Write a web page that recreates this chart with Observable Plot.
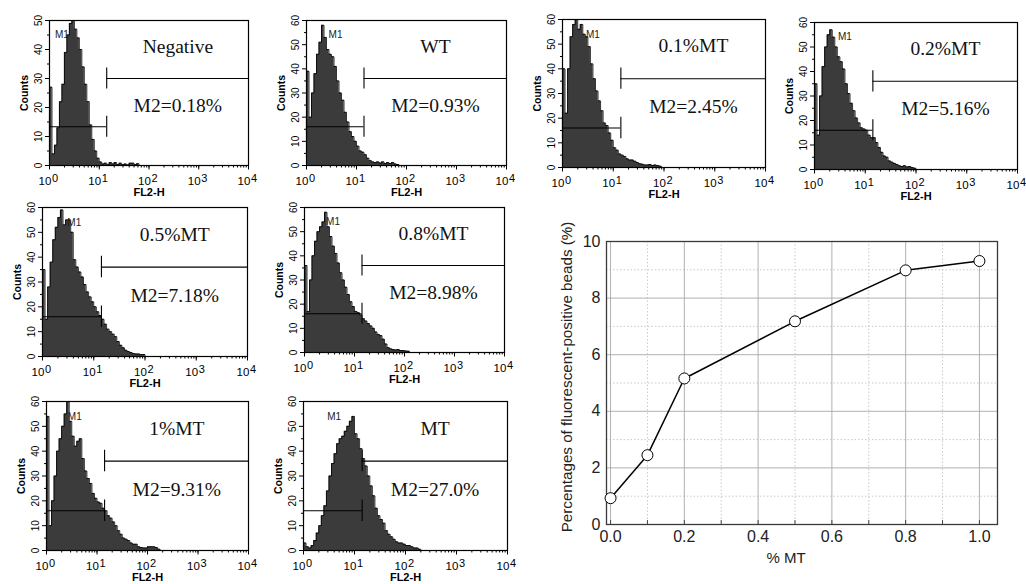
<!DOCTYPE html>
<html>
<head>
<meta charset="utf-8">
<script src="https://cdn.jsdelivr.net/npm/d3@7"></script>
<script src="https://cdn.jsdelivr.net/npm/@observablehq/plot@0.6"></script>
<style>
  html, body { margin: 0; padding: 0; background: #fff; overflow: hidden; }
  #root { position: relative; width: 1026px; height: 584px; }
  #root svg { position: absolute; background: transparent; }
</style>
</head>
<body>
<div id="root"></div>
<script>
// ---------- data: histogram counts per log10 bin (bin width 0.05 decade, starting at 10^0) ----------
const negativeCounts = [27,4,7,13,22,28,39,45,49,50,47,44,40,34,28,22,14,9,5,2.5,1.2,0.5,0.8,0.3,1,0.5,1,0.3,0.8,0.3,0.5,0.2,0.8,0.8,0.3,0.6,0];
const wtCounts = [39,20,30,38,46,51,58,53,48,46,45,41,35,30,27,22,18,14,12,10,8,6,5.5,4.5,3,2,1.5,1.2,1.5,1,1.5,0.8,1.2,0.8,1.2,0.6,0.4,0];
const mt01Counts = [40,22,40,53,58,60,56,58,54,53,49,42,36,31,27,23,18,17,14,11,8,7,5.5,5,4.5,3.5,3,3,2.5,2,1.5,1.3,1,1,1.2,0.8,1,0.8,0.5,0];
const mt02Counts = [35,14,30,42,50,55,57,54,50,46,44,41,35,31,27,24,21,19,17,16.5,16,14,13,13,11,9,7,5.5,5,3.5,3,2.5,2,1.5,1.2,1.5,1,1.2,0.8,0.5,0];
const mt05Counts = [35,15,28,38,47,52,56,59,53,55,55,50,39,36,34,32,29,26,24,22,20,18,16.5,15,13,11,10,9,8,6,4.5,3.5,2.5,2,1.6,1.2,1,1,0.8,0.8,0];
const mt08Counts = [36,17,30,40,46,50,52,54,58,52,48,44,41,37,33,30,27,24,21,19,17,16.5,15.5,14,13,12,11,10,8.5,7.5,7,5.5,3.5,2,1.5,1.2,1,1.2,0.8,0.8,0.6,0.5,0];
const mt1Counts = [54,10,20,30,40,45,50,55,60,52,46,42,44,45,37,32,29,27,23,21,19.5,19,17,16,14,13,11.5,10,8,6.5,5,4.5,4,3,2.5,2.5,1.5,1.2,1,1,1.5,1.5,1.5,1.2,0.5,0];
const mtCounts = [3,1.5,1,2,4,7,10,14,18,24,30,35,39,43,45,46,48,50,52,54,47,45,41,37,34,30,26,22,17,14,12.5,11,8,6.5,5.5,4.5,3.5,3,3,2.5,2,2,1.5,1,1,0.5,0];

const panelTitles = ["Negative","WT","0.1%MT","0.2%MT","0.5%MT","0.8%MT","1%MT","MT"];
const panelM2 = ["M2=0.18%","M2=0.93%","M2=2.45%","M2=5.16%","M2=7.18%","M2=8.98%","M2=9.31%","M2=27.0%"];
const panelYMax = [50,60,60,60,60,60,60,60];
const panelCounts = [negativeCounts, wtCounts, mt01Counts, mt02Counts, mt05Counts, mt08Counts, mt1Counts, mtCounts];
const m1LabelLog = [0.25,0.58,0.6,0.6,0.62,0.57,0.56,0.6];
const markerSplitLog = 1.15;
const binWidthLog = 0.05;
const decadeExponents = [0,1,2,3,4];

// line chart data
const mtFraction = [0, 0.1, 0.2, 0.5, 0.8, 1.0];
const positivePct = [0.93, 2.45, 5.16, 7.18, 8.98, 9.31];
const xMajor = [0, 0.2, 0.4, 0.6, 0.8, 1.0];
const xMinor = [0.1, 0.3, 0.5, 0.7, 0.9];
const yMajor = [0, 2, 4, 6, 8, 10];
const yMinor = [1, 3, 5, 7, 9];

// ---------- layout (frame left, frame top, frame width, frame height) ----------
const frames = [
  [49, 20, 199, 145], [306, 20, 200, 145], [562, 19, 203, 148], [814, 22, 203, 147],
  [42, 207, 205, 149], [304, 207, 200, 145],
  [46, 401, 202, 149], [303, 401, 204, 149]
];
const M = {left: 32, right: 9, top: 8, bottom: 32};
const sans = "'Liberation Sans', Arial, sans-serif";
const serif = "'Liberation Serif', 'Times New Roman', serif";

const root = document.getElementById("root");

panelCounts.forEach((counts, p) => {
  const ymax = panelYMax[p];
  const data = counts.map((c, i) => ({x: Math.pow(10, i * binWidthLog), y: c}));
  const yTicks = d3.range(0, ymax + 1, 10);
  const yMinorTicks = d3.range(5, ymax, 10);
  const m1y = ymax * 0.267, m2y = ymax * 0.6, cap = ymax * 0.072;
  const split = Math.pow(10, markerSplitLog);
  const [fl, ft, fw, fh] = frames[p];
  const chart = Plot.plot({
    width: fw + M.left + M.right,
    height: fh + M.top + M.bottom,
    marginLeft: M.left, marginRight: M.right, marginTop: M.top, marginBottom: M.bottom,
    style: {fontFamily: sans, fontSize: "10px", background: "transparent", overflow: "visible"},
    x: {type: "log", domain: [1, 10000], axis: null},
    y: {domain: [0, ymax], axis: null},
    marks: [
      Plot.areaY(data, {x: "x", y: "y", curve: "step-after", fill: "#3b3b3b"}),
      Plot.lineY(data, {x: "x", y: "y", curve: "step-after", stroke: "#000", strokeWidth: 0.8}),
      // M1 / M2 markers
      Plot.ruleY([m1y], {x1: 1, x2: split, stroke: "#000", strokeWidth: 1.1}),
      Plot.ruleX([1, split], {y1: m1y - cap, y2: m1y + cap, stroke: "#000", strokeWidth: 1.1}),
      Plot.ruleY([m2y], {x1: split, x2: 10000, stroke: "#000", strokeWidth: 1.1}),
      Plot.ruleX([split], {y1: m2y - cap, y2: m2y + cap, stroke: "#000", strokeWidth: 1.1}),
      Plot.text(["M1"], {x: Math.pow(10, m1LabelLog[p]), y: ymax * 0.9, text: d => d, fontSize: 10, fill: "#222"}),
      // labels
      Plot.text([panelTitles[p]], {x: Math.pow(10, 2.58), y: ymax * 0.82, text: d => d, fontFamily: serif, fontSize: 19.5, fill: "#111"}),
      Plot.text([panelM2[p]], {x: Math.pow(10, 2.58), y: ymax * 0.41, text: d => d, fontFamily: serif, fontSize: 19.5, fill: "#111"}),
      Plot.frame({stroke: "#000", strokeWidth: 1.2}),
      // y axis
      Plot.axisY({ticks: yTicks, tickSize: 4, tickFormat: () => "", label: null, strokeWidth: 1}),
      Plot.axisY({ticks: yMinorTicks, tickSize: 2, tickFormat: () => "", label: null}),
      Plot.text(yTicks, {y: d => d, frameAnchor: "left", textAnchor: "middle", lineAnchor: "middle", dx: -11, rotate: -90, text: d => String(d), fontSize: 10, fill: "#000"}),
      Plot.text(["Counts"], {frameAnchor: "left", textAnchor: "middle", lineAnchor: "middle", dx: -25, rotate: -90, text: d => d, fontSize: 10.5, fontWeight: "bold", fill: "#000"}),
      // x axis
      Plot.axisX({ticks: 40, tickSize: 2.5, tickFormat: () => "", label: null}),
      Plot.axisX({ticks: [1, 10, 100, 1000, 10000], tickSize: 4.5, tickFormat: () => "", label: null}),
      Plot.text(decadeExponents, {x: d => Math.pow(10, d), frameAnchor: "bottom", lineAnchor: "middle", dy: 16, dx: -4.5, text: () => "10", fontSize: 11.5, fill: "#000"}),
      Plot.text(decadeExponents, {x: d => Math.pow(10, d), frameAnchor: "bottom", lineAnchor: "middle", dy: 13, dx: 5.5, text: d => String(d), fontSize: 11, fill: "#000"}),
      Plot.text(["FL2-H"], {frameAnchor: "bottom", lineAnchor: "middle", dy: 27, text: d => d, fontSize: 11, fontWeight: "bold", fill: "#000"})
    ]
  });
  chart.style.left = (fl - M.left) + "px";
  chart.style.top = (ft - M.top) + "px";
  root.appendChild(chart);
});

// ---------- line chart ----------
const lineData = mtFraction.map((x, i) => ({x, y: positivePct[i]}));
const xAll = d3.range(0, 11).map(d => d / 10);
const lc = Plot.plot({
  width: 496, height: 359,
  marginLeft: 76, marginRight: 29, marginTop: 16, marginBottom: 60,
  style: {fontFamily: sans, fontSize: "16px", background: "transparent", overflow: "visible"},
  x: {domain: [-0.011, 1.049], axis: null},
  y: {domain: [0, 10], axis: null},
  marks: [
    Plot.ruleX(xMinor, {stroke: "#bdbdbd", strokeDasharray: "1.5,2", strokeWidth: 0.8}),
    Plot.ruleY(yMinor, {stroke: "#bdbdbd", strokeDasharray: "1.5,2", strokeWidth: 0.8}),
    Plot.ruleX(xMajor, {stroke: "#a8a8a8", strokeWidth: 0.9}),
    Plot.ruleY(yMajor, {stroke: "#a8a8a8", strokeWidth: 0.9}),
    Plot.ruleX(xAll, {y1: 0, y2: 0.14, stroke: "#444"}),
    Plot.frame({stroke: "#3a3a3a", strokeWidth: 1.3}),
    Plot.line(lineData, {x: "x", y: "y", stroke: "#000", strokeWidth: 1.5}),
    Plot.dot(lineData, {x: "x", y: "y", r: 5.5, fill: "#fff", stroke: "#000", strokeWidth: 1}),
    Plot.axisX({ticks: xMajor, tickSize: 0, tickPadding: 6, tickFormat: d3.format(".1f"), label: null, fontSize: 16, fill: "#222"}),
    Plot.axisY({ticks: yMajor, tickSize: 0, tickPadding: 6, tickFormat: d3.format("d"), label: null, fontSize: 16, fill: "#222"}),
    Plot.text(["% MT"], {frameAnchor: "bottom", lineAnchor: "middle", dy: 34, dx: -16, text: d => d, fontSize: 15, fill: "#222"}),
    Plot.text(["Percentages of fluorescent-positive beads (%)"], {frameAnchor: "left", textAnchor: "middle", lineAnchor: "middle", dx: -39, dy: -6, rotate: -90, text: d => d, fontSize: 15.2, fill: "#222"})
  ]
});
lc.style.left = "530px";
lc.style.top = "225px";
root.appendChild(lc);
</script>
</body>
</html>
